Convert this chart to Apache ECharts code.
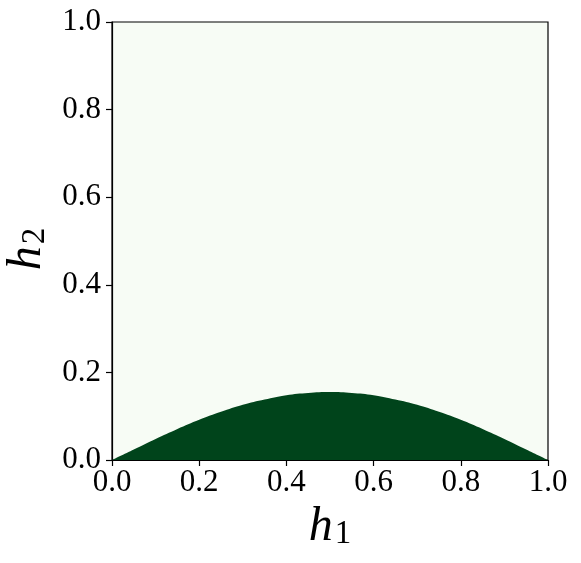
<!DOCTYPE html>
<html>
<head>
<meta charset="utf-8">
<script src="https://cdn.jsdelivr.net/npm/echarts@6/dist/echarts.min.js"></script>
<style>
  html, body { margin: 0; padding: 0; background: #fff; }
  #chart { width: 581px; height: 563px; }
</style>
</head>
<body>
<div id="chart"></div>
<script>
// boundary of the dark region
var h1Vals = [0, 0.05, 0.1, 0.15, 0.2, 0.25, 0.3, 0.35, 0.4, 0.45, 0.5,
              0.55, 0.6, 0.65, 0.7, 0.75, 0.8, 0.85, 0.9, 0.95, 1.0]
var h2Vals = [0, 0.024, 0.048, 0.071, 0.092, 0.110, 0.126, 0.138, 0.148, 0.153, 0.155,
              0.153, 0.148, 0.138, 0.126, 0.110, 0.092, 0.071, 0.048, 0.024, 0]
var tickVals = [0, 0.2, 0.4, 0.6, 0.8, 1.0]

var myChart = echarts.init(document.getElementById('chart'))

var labelFont = {
  fontFamily: 'Liberation Serif',
  fontSize: 31,
  color: '#000'
}
// axis name: italic h with subscript (subscript pushed to the bottom of the line)
var nameRich = {
  h: { fontFamily: 'Liberation Serif', fontStyle: 'italic', fontSize: 48, lineHeight: 48, verticalAlign: 'top', color: '#000' },
  s: { fontFamily: 'Liberation Serif', fontSize: 33, lineHeight: 20, verticalAlign: 'bottom', padding: [0, 0, 0, 2], color: '#000' }
}

myChart.setOption({
  animation: false,
  grid: {
    left: 112,
    right: 33,
    top: 22,
    bottom: 103,
    containLabel: false,
    outerBoundsMode: 'none',
    show: true,
    backgroundColor: '#f7fcf5',
    borderColor: '#000',
    borderWidth: 1.2
  },
  xAxis: {
    type: 'value',
    min: 0,
    max: 1,
    interval: 0.2,
    name: '{h|h}{s|1}',
    nameLocation: 'middle',
    nameGap: 38,
    nameTextStyle: { rich: nameRich },
    axisLine: { show: true, onZero: false, lineStyle: { color: '#000', width: 1.2 } },
    axisTick: { show: true, length: 6, lineStyle: { color: '#000', width: 1.2 } },
    axisLabel: Object.assign({ margin: 7, formatter: function (v) { return v.toFixed(1) } }, labelFont),
    splitLine: { show: false }
  },
  yAxis: {
    type: 'value',
    min: 0,
    max: 1,
    interval: 0.2,
    name: '{h|h}{s|2}',
    nameLocation: 'middle',
    nameRotate: 90,
    nameGap: 60,
    nameTextStyle: { rich: nameRich, padding: [0, 16, 0, 0] },
    axisLine: { show: true, onZero: false, lineStyle: { color: '#000', width: 1.2 } },
    axisTick: { show: true, length: 6, lineStyle: { color: '#000', width: 1.2 } },
    axisLabel: Object.assign({ margin: 11, formatter: function (v) { return v.toFixed(1) } }, labelFont),
    splitLine: { show: false }
  },
  series: [
    {
      type: 'line',
      data: h1Vals.map(function (x, i) { return [x, h2Vals[i]] }),
      showSymbol: false,
      smooth: 0.4,
      lineStyle: { width: 0 },
      areaStyle: { color: '#00441b', opacity: 1 },
      z: 1
    }
  ]
})
</script>
</body>
</html>
